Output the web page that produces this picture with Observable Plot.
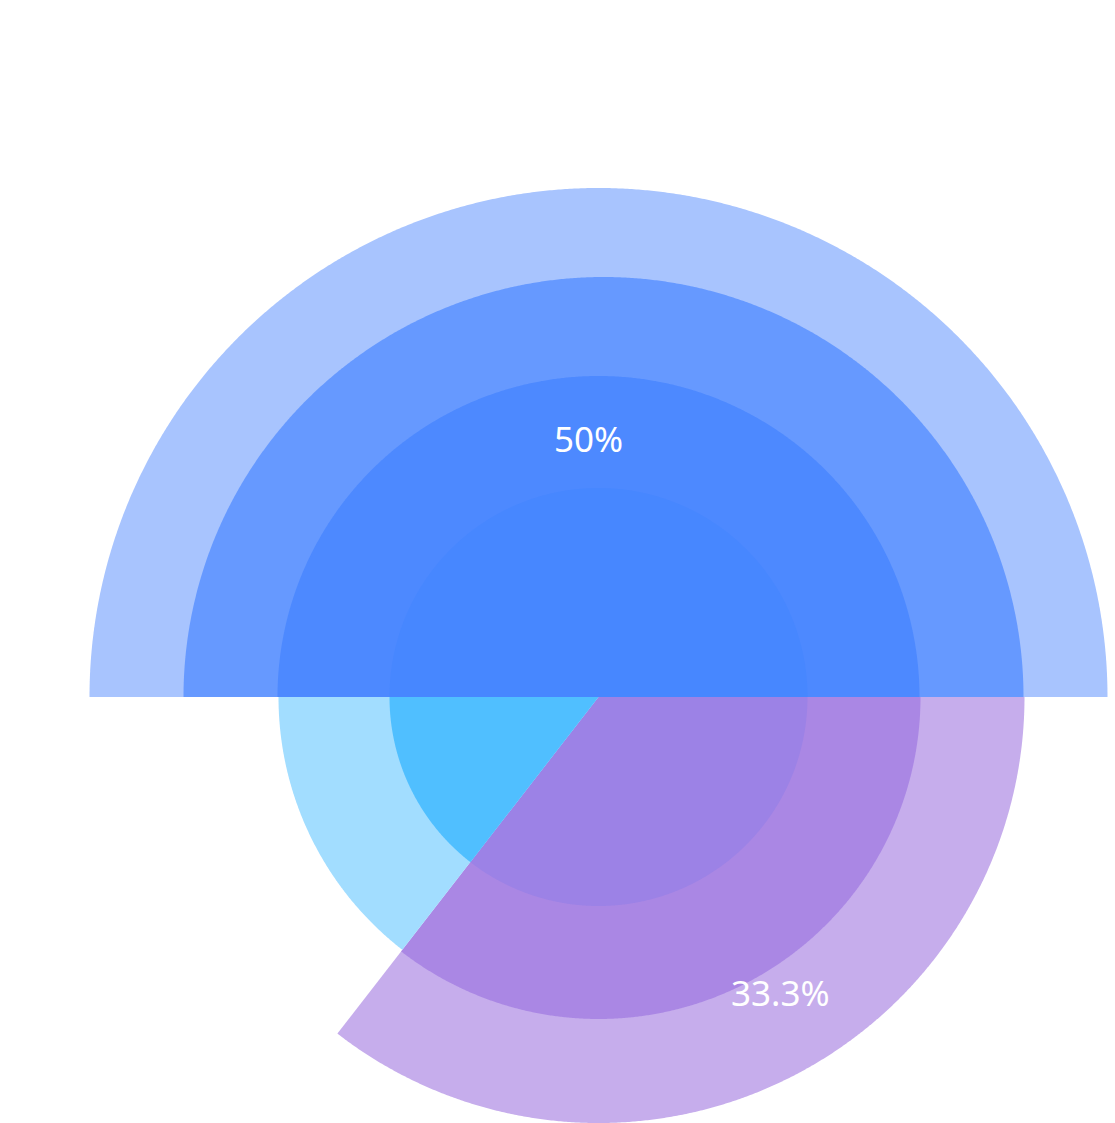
<!DOCTYPE html>
<html><head><meta charset="utf-8">
<script src="https://cdn.jsdelivr.net/npm/d3@7"></script>
<script src="https://cdn.jsdelivr.net/npm/@observablehq/plot@0.6"></script>
<style>html,body{margin:0;padding:0;background:#fff}#chart svg{display:block}</style>
</head><body><div id="chart"></div>
<script>
// Series (sectors), drawn angular spans (% of full turn), label shares and texts
const series = ["blue", "purple", "cyan"];
const spans = [50, 35.5, 14.5];
const labelShares = [50, 33.3, 16.7];
const labelTexts = ["50%", "33.3%", ""];
const labelRadii = [255, 349, 0];
// Radii of the stacked layers in each sector (outer -> inner)
const ringRadii = [[509, 420, 321, 209], [426, 322, 209], [320, 209]];

// styles
const palette = [
  ["#a8c4fe", "#6699ff", "#4d89ff", "#4787ff"],
  ["#c6adec", "#aa87e4", "#9c82e6"],
  ["#a2ddff", "#50bfff"]
];
const ringShift = [[0, 5, 0, 0], [0, 0, 0], [0, 0]];
const labelNudgeX = [-10.5, 6.5, 0];
const labelNudgeY = [2, 4.7, 0];
const startAngle = -90;

const rad = d => d * Math.PI / 180;
const pts = [];
let acc = startAngle;
series.forEach((s, i) => {
  const a0 = acc, a1 = acc + spans[i] * 3.6; acc = a1;
  ringRadii[i].forEach((r, j) => {
    const n = Math.ceil((a1 - a0) / 0.25);
    const sx = ringShift[i][j];
    for (let k = 0; k <= n; k++) {
      const t = rad(a0 + (a1 - a0) * k / n);
      pts.push({layer: s + j, x1: sx, y1: 0, x2: sx + r * Math.sin(t), y2: r * Math.cos(t), color: palette[i][j]});
    }
  });
});

const labelData = [];
let acc2 = startAngle;
series.forEach((s, i) => {
  const mid = acc2 + labelShares[i] * 1.8;
  acc2 += labelShares[i] * 3.6;
  if (labelTexts[i]) labelData.push({
    x: labelRadii[i] * Math.sin(rad(mid)) + labelNudgeX[i],
    y: labelRadii[i] * Math.cos(rad(mid)) + labelNudgeY[i],
    text: labelTexts[i]
  });
});

const chart = Plot.plot({
  width: 1115, height: 1123, margin: 0,
  x: {domain: [-598.5, 516.5], range: [0, 1115], axis: null},
  y: {domain: [-426, 697], range: [1123, 0], axis: null},
  color: {type: "identity"},
  marks: [
    Plot.area(pts, {x1: "x1", y1: "y1", x2: "x2", y2: "y2", z: "layer", fill: "color"}),
    Plot.text(labelData, {x: "x", y: "y", text: "text", fill: "white", fontSize: 35, fontFamily: "Noto Sans"})
  ]
});
document.getElementById("chart").appendChild(chart);
</script>
</body></html>
